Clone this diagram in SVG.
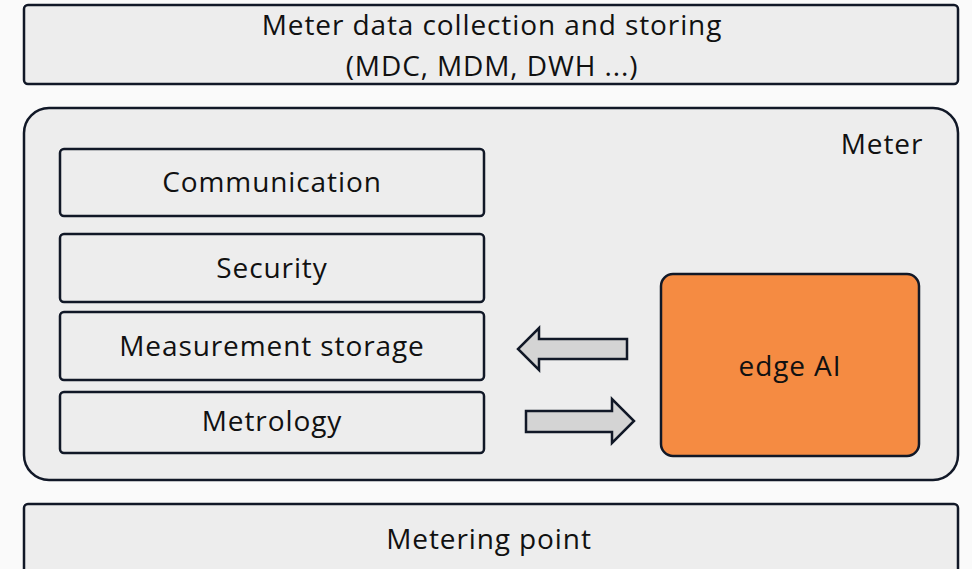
<svg xmlns="http://www.w3.org/2000/svg" width="972" height="569" viewBox="0 0 972 569">
<style>
.box{fill:#ededed;stroke:#111827;stroke-width:2.5}
.t{font-family:"Open Sans","Liberation Sans",sans-serif;font-size:28px;letter-spacing:0.9px;fill:#111;text-anchor:middle}
.arr{fill:#d4d4d4;stroke:#111827;stroke-width:2.5;stroke-linejoin:miter}
</style>
<rect width="972" height="569" fill="#fafafa"/>
<g id="mdc">
<rect class="box" x="24" y="5" width="934" height="79" rx="4"/>
<text class="t" x="492" y="35">Meter data collection and storing</text>
<text class="t" x="492" y="76">(MDC, MDM, DWH ...)</text>
</g>
<g id="meter">
<rect class="box" x="24" y="108" width="934" height="372" rx="25"/>
<text class="t" x="882" y="154">Meter</text>
</g>
<g id="communication">
<rect class="box" x="60" y="149" width="424" height="67" rx="4"/>
<text class="t" x="272" y="192">Communication</text>
</g>
<g id="security">
<rect class="box" x="60" y="234" width="424" height="68" rx="4"/>
<text class="t" x="272" y="278">Security</text>
</g>
<g id="storage">
<rect class="box" x="60" y="312" width="424" height="68" rx="4"/>
<text class="t" x="272" y="356">Measurement storage</text>
</g>
<g id="metrology">
<rect class="box" x="60" y="392" width="424" height="61" rx="4"/>
<text class="t" x="272" y="431">Metrology</text>
</g>
<g id="edgeai">
<rect x="661" y="274" width="258" height="182" rx="12" fill="#f58b42" stroke="#111827" stroke-width="2.5"/>
<text class="t" x="790" y="376">edge AI</text>
</g>
<g id="connectors">
<polygon class="arr" points="627,339 539,339 539,328 518,349 539,370 539,359 627,359"/>
<polygon class="arr" points="526,411 612,411 612,399 634,421 612,443 612,432 526,432"/>
</g>
<g id="meteringpoint">
<rect class="box" x="24" y="504" width="934" height="80" rx="4"/>
<text class="t" x="489" y="549">Metering point</text>
</g>
</svg>
